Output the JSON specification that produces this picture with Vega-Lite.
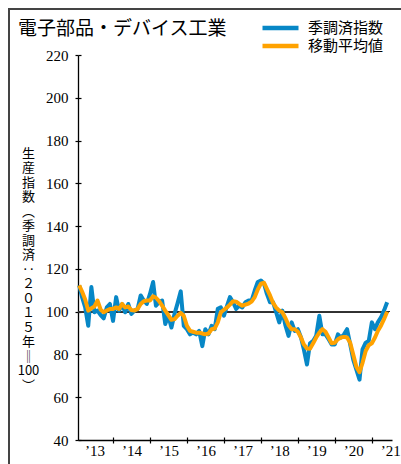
{
  "$schema": "https://vega.github.io/schema/vega-lite/v6.json",
  "width": 392,
  "height": 455,
  "autosize": {"type": "none"},
  "padding": {"left": 9, "top": 9, "right": 0, "bottom": 0},
  "background": "white",
  "title": {"text": "電子部品・デバイス工業", "anchor": "start", "frame": "group", "orient": "top", "offset": -30, "dx": 9, "font": "Noto Sans CJK JP", "fontSize": 19, "fontWeight": "normal", "color": "black"},
  "config": {
    "view": {"stroke": "#444", "strokeWidth": 2, "strokeDash": [392, 847, 455]},
    "legend": {"title": null}
  },
  "data": {"values": [
    {"date": "2013-02-01", "idx": 112.3, "ma": 112.3},
    {"date": "2013-03-01", "idx": 106.8, "ma": 109.4},
    {"date": "2013-04-01", "idx": 102.0, "ma": 105.7},
    {"date": "2013-05-01", "idx": 93.4, "ma": 100.5},
    {"date": "2013-06-01", "idx": 111.5, "ma": 101.6},
    {"date": "2013-07-01", "idx": 99.7, "ma": 102.4},
    {"date": "2013-08-01", "idx": 100.5, "ma": 105.2},
    {"date": "2013-09-01", "idx": 98.4, "ma": 100.9},
    {"date": "2013-10-01", "idx": 96.9, "ma": 99.7},
    {"date": "2013-11-01", "idx": 102.0, "ma": 100.5},
    {"date": "2013-12-01", "idx": 103.6, "ma": 101.3},
    {"date": "2014-01-01", "idx": 95.7, "ma": 101.3},
    {"date": "2014-02-01", "idx": 106.8, "ma": 102.0},
    {"date": "2014-03-01", "idx": 100.5, "ma": 101.3},
    {"date": "2014-04-01", "idx": 103.6, "ma": 103.6},
    {"date": "2014-05-01", "idx": 99.7, "ma": 102.0},
    {"date": "2014-06-01", "idx": 103.6, "ma": 102.4},
    {"date": "2014-07-01", "idx": 98.9, "ma": 100.8},
    {"date": "2014-08-01", "idx": 100.5, "ma": 100.5},
    {"date": "2014-09-01", "idx": 101.3, "ma": 101.3},
    {"date": "2014-10-01", "idx": 107.6, "ma": 103.6},
    {"date": "2014-11-01", "idx": 105.2, "ma": 104.9},
    {"date": "2014-12-01", "idx": 103.6, "ma": 105.2},
    {"date": "2015-01-01", "idx": 108.3, "ma": 105.2},
    {"date": "2015-02-01", "idx": 113.9, "ma": 107.2},
    {"date": "2015-03-01", "idx": 102.8, "ma": 106.5},
    {"date": "2015-04-01", "idx": 104.4, "ma": 104.9},
    {"date": "2015-05-01", "idx": 105.2, "ma": 102.8},
    {"date": "2015-06-01", "idx": 94.2, "ma": 100.5},
    {"date": "2015-07-01", "idx": 98.1, "ma": 98.4},
    {"date": "2015-08-01", "idx": 92.6, "ma": 96.2},
    {"date": "2015-09-01", "idx": 99.0, "ma": 96.5},
    {"date": "2015-10-01", "idx": 104.0, "ma": 98.1},
    {"date": "2015-11-01", "idx": 109.5, "ma": 99.4},
    {"date": "2015-12-01", "idx": 93.4, "ma": 98.1},
    {"date": "2016-01-01", "idx": 91.8, "ma": 93.4},
    {"date": "2016-02-01", "idx": 89.4, "ma": 91.0},
    {"date": "2016-03-01", "idx": 90.2, "ma": 90.6},
    {"date": "2016-04-01", "idx": 89.4, "ma": 90.2},
    {"date": "2016-05-01", "idx": 91.0, "ma": 90.2},
    {"date": "2016-06-01", "idx": 83.9, "ma": 89.8},
    {"date": "2016-07-01", "idx": 91.8, "ma": 89.4},
    {"date": "2016-08-01", "idx": 89.4, "ma": 89.8},
    {"date": "2016-09-01", "idx": 93.4, "ma": 91.8},
    {"date": "2016-10-01", "idx": 91.8, "ma": 92.1},
    {"date": "2016-11-01", "idx": 101.3, "ma": 95.0},
    {"date": "2016-12-01", "idx": 102.0, "ma": 99.7},
    {"date": "2017-01-01", "idx": 98.1, "ma": 100.9},
    {"date": "2017-02-01", "idx": 102.8, "ma": 102.0},
    {"date": "2017-03-01", "idx": 106.8, "ma": 103.3},
    {"date": "2017-04-01", "idx": 104.4, "ma": 104.9},
    {"date": "2017-05-01", "idx": 101.3, "ma": 104.7},
    {"date": "2017-06-01", "idx": 102.8, "ma": 103.6},
    {"date": "2017-07-01", "idx": 102.0, "ma": 102.8},
    {"date": "2017-08-01", "idx": 104.4, "ma": 103.3},
    {"date": "2017-09-01", "idx": 105.2, "ma": 103.8},
    {"date": "2017-10-01", "idx": 105.2, "ma": 104.7},
    {"date": "2017-11-01", "idx": 109.9, "ma": 106.8},
    {"date": "2017-12-01", "idx": 113.9, "ma": 110.4},
    {"date": "2018-01-01", "idx": 114.6, "ma": 113.1},
    {"date": "2018-02-01", "idx": 113.1, "ma": 113.5},
    {"date": "2018-03-01", "idx": 108.3, "ma": 110.7},
    {"date": "2018-04-01", "idx": 104.4, "ma": 107.6},
    {"date": "2018-05-01", "idx": 104.4, "ma": 104.1},
    {"date": "2018-06-01", "idx": 99.7, "ma": 101.9},
    {"date": "2018-07-01", "idx": 95.0, "ma": 100.5},
    {"date": "2018-08-01", "idx": 100.5, "ma": 99.7},
    {"date": "2018-09-01", "idx": 93.4, "ma": 96.9},
    {"date": "2018-10-01", "idx": 88.7, "ma": 93.7},
    {"date": "2018-11-01", "idx": 95.0, "ma": 91.8},
    {"date": "2018-12-01", "idx": 91.0, "ma": 91.8},
    {"date": "2019-01-01", "idx": 91.8, "ma": 90.6},
    {"date": "2019-02-01", "idx": 87.9, "ma": 87.9},
    {"date": "2019-03-01", "idx": 82.4, "ma": 84.7},
    {"date": "2019-04-01", "idx": 75.3, "ma": 82.8},
    {"date": "2019-05-01", "idx": 85.2, "ma": 82.7},
    {"date": "2019-06-01", "idx": 86.3, "ma": 85.2},
    {"date": "2019-07-01", "idx": 88.7, "ma": 87.9},
    {"date": "2019-08-01", "idx": 98.1, "ma": 90.2},
    {"date": "2019-09-01", "idx": 89.4, "ma": 91.8},
    {"date": "2019-10-01", "idx": 89.4, "ma": 90.6},
    {"date": "2019-11-01", "idx": 87.1, "ma": 87.9},
    {"date": "2019-12-01", "idx": 84.7, "ma": 85.2},
    {"date": "2020-01-01", "idx": 84.7, "ma": 85.5},
    {"date": "2020-02-01", "idx": 89.4, "ma": 87.1},
    {"date": "2020-03-01", "idx": 87.9, "ma": 87.9},
    {"date": "2020-04-01", "idx": 89.4, "ma": 88.2},
    {"date": "2020-05-01", "idx": 91.8, "ma": 87.9},
    {"date": "2020-06-01", "idx": 84.7, "ma": 85.5},
    {"date": "2020-07-01", "idx": 77.6, "ma": 80.0},
    {"date": "2020-08-01", "idx": 72.9, "ma": 74.2},
    {"date": "2020-09-01", "idx": 68.2, "ma": 71.7},
    {"date": "2020-10-01", "idx": 82.4, "ma": 76.1},
    {"date": "2020-11-01", "idx": 85.5, "ma": 81.6},
    {"date": "2020-12-01", "idx": 86.3, "ma": 84.3},
    {"date": "2021-01-01", "idx": 95.0, "ma": 85.2},
    {"date": "2021-02-01", "idx": 91.8, "ma": 87.9},
    {"date": "2021-03-01", "idx": 95.0, "ma": 91.0},
    {"date": "2021-04-01", "idx": 97.3, "ma": 93.4},
    {"date": "2021-05-01", "idx": 100.5, "ma": 96.5},
    {"date": "2021-06-01", "idx": 104.4, "ma": 100.0}
  ]},
  "resolve": {"axis": {"x": "independent", "y": "independent"}},
  "layer": [
    {
      "mark": {"type": "rule", "color": "#333", "strokeWidth": 1.3},
      "encoding": {
        "x": {"datum": {"year": 2013, "month": 1, "date": 20}, "type": "temporal",
          "scale": {"domain": [{"year": 2013, "month": 1, "date": 20}, {"year": 2021, "month": 7, "date": 19}], "range": [69, 383], "nice": false},
          "axis": {"orient": "bottom", "offset": -24, "values": [{"year": 2013, "month": 7, "date": 2}, {"year": 2014, "month": 7, "date": 2}, {"year": 2015, "month": 7, "date": 2}, {"year": 2016, "month": 7, "date": 2}, {"year": 2017, "month": 7, "date": 2}, {"year": 2018, "month": 7, "date": 2}, {"year": 2019, "month": 7, "date": 2}, {"year": 2020, "month": 7, "date": 2}, {"year": 2021, "month": 7, "date": 2}],
            "ticks": false, "tickSize": 0, "labelExpr": "'’' + timeFormat(datum.value, '%y')", "labelFont": "Liberation Serif", "labelFontSize": 15, "labelColor": "black", "labelPadding": 3, "labelFlush": false, "labelOverlap": false, "domain": true, "domainColor": "black", "domainWidth": 1.3, "grid": false, "title": null}},
        "x2": {"datum": {"year": 2021, "month": 6, "date": 20}},
        "y": {"datum": 100, "type": "quantitative",
          "scale": {"domain": [40, 220], "range": [431, 46], "nice": false, "zero": false},
          "axis": {"orient": "left", "offset": -69, "values": [40, 60, 80, 100, 120, 140, 160, 180, 200, 220], "tickSize": 3, "tickColor": "black", "tickWidth": 1.2, "labelFont": "Liberation Serif", "labelFontSize": 15, "labelColor": "black", "labelPadding": 7, "labelFlush": false, "domainColor": "black", "domainWidth": 1.3, "grid": false,
            "title": ["生", "産", "指", "数", "︵", "季", "調", "済", "‥", "２", "０", "１", "５", "年", "‖", "100", "︶"],
            "titleAngle": 0, "titleX": -50, "titleY": 144, "titleAlign": "center", "titleBaseline": "middle", "titleFont": "Noto Sans CJK JP", "titleFontSize": 13, "titleFontWeight": "normal", "titleColor": "black", "titleLineHeight": 14.5}}
      }
    },
    {
      "mark": {"type": "line", "strokeWidth": 4, "strokeJoin": "round"},
      "encoding": {
        "x": {"field": "date", "type": "temporal",
          "axis": {"orient": "bottom", "offset": -24, "values": [{"year": 2014, "month": 1, "date": 1}, {"year": 2015, "month": 1, "date": 1}, {"year": 2016, "month": 1, "date": 1}, {"year": 2017, "month": 1, "date": 1}, {"year": 2018, "month": 1, "date": 1}, {"year": 2019, "month": 1, "date": 1}, {"year": 2020, "month": 1, "date": 1}, {"year": 2021, "month": 1, "date": 1}],
            "ticks": true, "tickSize": 3, "tickColor": "black", "tickWidth": 1.2, "labels": false, "domain": false, "grid": false, "title": null}},
        "y": {"field": "idx", "type": "quantitative",
          "axis": {"orient": "left", "offset": -69, "values": [40, 60, 80, 100, 120, 140, 160, 180, 200, 220], "tickSize": -3, "tickColor": "black", "tickWidth": 1.2, "labels": false, "domain": false, "grid": false, "title": null}},
        "color": {"datum": "季調済指数", "type": "nominal",
          "scale": {"domain": ["季調済指数", "移動平均値"], "range": ["#0787c6", "#ffa200"]},
          "legend": {"orient": "none", "legendX": 251, "legendY": 11, "title": null, "symbolType": "stroke", "symbolSize": 1296, "symbolStrokeWidth": 4.5, "clipHeight": 16, "rowPadding": 2, "labelOffset": 7, "labelFont": "Noto Sans CJK JP", "labelFontSize": 15, "labelColor": "black", "padding": 0}}
      }
    },
    {
      "mark": {"type": "line", "strokeWidth": 4, "strokeJoin": "round"},
      "encoding": {
        "x": {"field": "date", "type": "temporal",
          "axis": {"orient": "bottom", "offset": -24, "values": [{"year": 2014, "month": 1, "date": 1}, {"year": 2015, "month": 1, "date": 1}, {"year": 2016, "month": 1, "date": 1}, {"year": 2017, "month": 1, "date": 1}, {"year": 2018, "month": 1, "date": 1}, {"year": 2019, "month": 1, "date": 1}, {"year": 2020, "month": 1, "date": 1}, {"year": 2021, "month": 1, "date": 1}],
            "ticks": true, "tickSize": -3, "tickColor": "black", "tickWidth": 1.2, "labels": false, "domain": false, "grid": false, "title": null}},
        "y": {"field": "ma", "type": "quantitative", "axis": null},
        "color": {"datum": "移動平均値", "type": "nominal",
          "legend": {"orient": "none", "legendX": 251, "legendY": 11, "title": null, "symbolType": "stroke", "symbolSize": 1296, "symbolStrokeWidth": 4.5, "clipHeight": 16, "rowPadding": 2, "labelOffset": 7, "labelFont": "Noto Sans CJK JP", "labelFontSize": 15, "labelColor": "black", "padding": 0}}
      }
    }
  ]
}
